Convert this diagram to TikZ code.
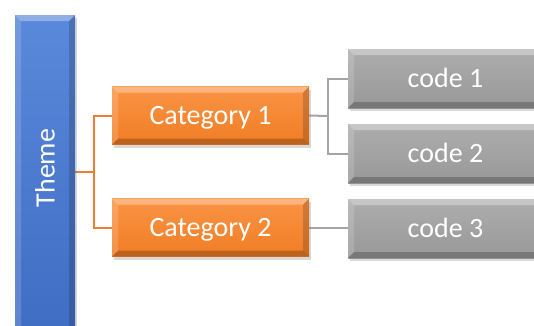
\documentclass[tikz,border=0pt]{standalone}
\usepackage{fontspec}
\setmainfont{Carlito}
\usetikzlibrary{shadows,backgrounds}

\definecolor{blueTop}{HTML}{5A88DA}
\definecolor{blueBot}{HTML}{3F6DC3}
\definecolor{orangeTop}{HTML}{FA9445}
\definecolor{orangeBot}{HTML}{F07D24}
\definecolor{greyTop}{HTML}{ADADAD}
\definecolor{greyBot}{HTML}{989898}
\definecolor{orangeLine}{HTML}{ED7D31}
\definecolor{greyLine}{HTML}{A5A5A5}

% bevelled faces of a box, drawn inside its path picture
\newcommand\bevelfaces{%
  \coordinate (pNW) at (path picture bounding box.north west);
  \coordinate (pNE) at (path picture bounding box.north east);
  \coordinate (pSW) at (path picture bounding box.south west);
  \coordinate (pSE) at (path picture bounding box.south east);
  \fill[white,opacity=.32] (pNW) -- (pNE) -- ([xshift=-6pt,yshift=-6pt]pNE) -- ([xshift=6pt,yshift=-6pt]pNW) -- cycle;
  \fill[white,opacity=.16] (pNW) -- ([xshift=6pt,yshift=-6pt]pNW) -- ([xshift=6pt,yshift=6pt]pSW) -- (pSW) -- cycle;
  \fill[black,opacity=.22] (pSW) -- ([xshift=6pt,yshift=6pt]pSW) -- ([xshift=-6pt,yshift=6pt]pSE) -- (pSE) -- cycle;
  \fill[black,opacity=.16] (pNE) -- (pSE) -- ([xshift=-6pt,yshift=6pt]pSE) -- ([xshift=-6pt,yshift=-6pt]pNE) -- cycle;
}

\tikzset{
  bevelbox/.style={rectangle, inner sep=0pt, outer sep=0pt, text=white,
    font=\fontsize{28}{30}\selectfont,
    drop shadow={opacity=.3, shadow xshift=2pt, shadow yshift=-3pt},
    path picture={\bevelfaces}},
  themebox/.style={bevelbox, top color=blueTop, bottom color=blueBot,
    minimum width=60pt, minimum height=320pt},
  catbox/.style={bevelbox, top color=orangeTop, bottom color=orangeBot,
    text height=17.5pt, text depth=0pt,
    minimum width=197pt, minimum height=58pt},
  codebox/.style={bevelbox, top color=greyTop, bottom color=greyBot,
    text height=17.5pt, text depth=0pt,
    minimum width=195pt, minimum height=59pt},
  orangelink/.style={draw=orangeLine, line width=2pt},
  greylink/.style={draw=greyLine, line width=2pt},
}

\begin{document}
\begin{tikzpicture}[x=1pt,y=-1pt]
\useasboundingbox (0,0) rectangle (534,325);

% boxes; the theme bar runs past the bottom edge
\node[themebox] (theme) at (45,175) {\rotatebox{90}{\hspace{14pt}Theme}};
\node[catbox] (cat1) at (210.5,115.5) {Category 1};
\node[catbox] (cat2) at (210.5,227.5) {Category 2};
\node[codebox] (code1) at (445.5,78.5) {code 1};
\node[codebox] (code2) at (445.5,153.5) {code 2};
\node[codebox] (code3) at (445.5,228.5) {code 3};

% connector junctions
\coordinate (j1) at (94,172);
\coordinate (j2) at (328,116);

% connectors, behind the boxes
\begin{scope}[on background layer]
\draw[orangelink] (theme.east |- j1) -- (j1);
\draw[orangelink] (cat1.west) -| (j1) |- (cat2.west);
\draw[greylink] (cat1.east) -- (j2);
\draw[greylink] (code1.west) -| (j2) |- (code2.west);
\draw[greylink] (cat2.east) -- (cat2.east -| code3.west);
\end{scope}
\end{tikzpicture}
\end{document}
